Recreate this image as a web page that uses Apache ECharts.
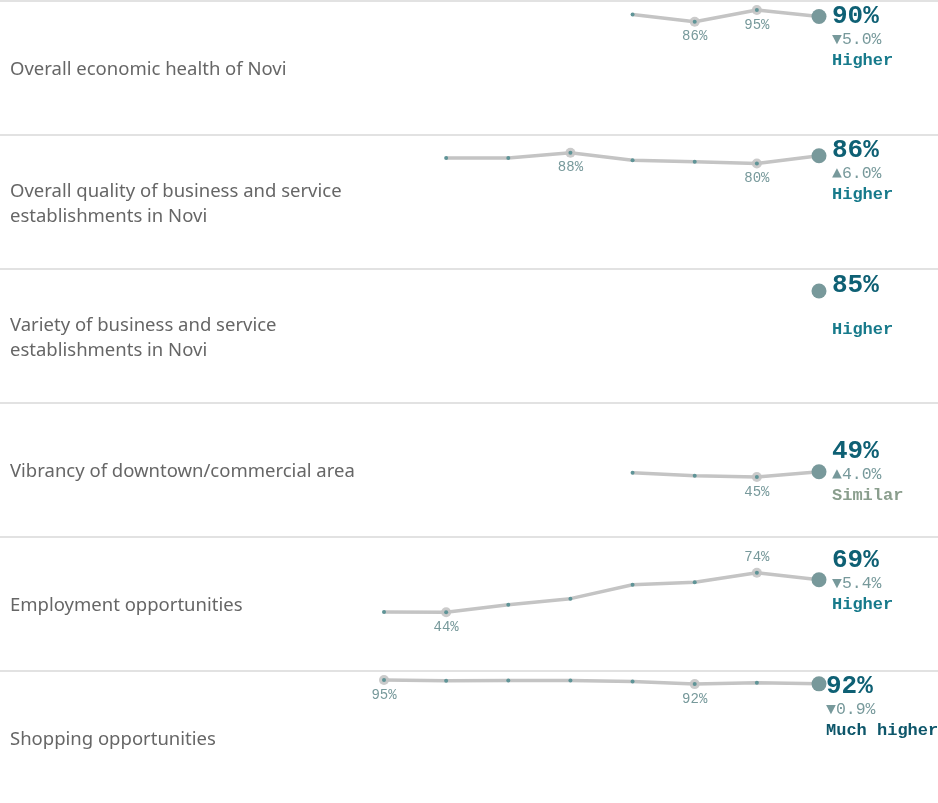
<!DOCTYPE html>
<html><head><meta charset="utf-8">
<script src="https://cdn.jsdelivr.net/npm/echarts@6/dist/echarts.min.js"></script>
<style>html,body{margin:0;padding:0;background:#fff}#c{width:938px;height:803px}</style>
</head><body><div id="c"></div>
<script>
// ---- data ----
const periods = ['P1', 'P2', 'P3', 'P4', 'P5', 'P6', 'P7', 'P8'];
const measures = [
  'Overall economic health of Novi',
  'Overall quality of business and service\nestablishments in Novi',
  'Variety of business and service\nestablishments in Novi',
  'Vibrancy of downtown/commercial area',
  'Employment opportunities',
  'Shopping opportunities'
];
const economicHealth   = [null, null, null, null, 91.5, 86, 95, 90];
const businessQuality  = [null, 84.2, 84.2, 88.3, 82.5, 81.4, 80, 86];
const businessVariety  = [null, null, null, null, null, null, null, 85];
const downtownVibrancy = [null, null, null, null, 48.3, 46, 45, 49];
const employment       = [44.2, 44, 49.8, 54.5, 65.2, 67.1, 74.4, 69];
const shopping         = [95, 94.4, 94.6, 94.6, 93.8, 91.8, 92.9, 92];
const changes  = [-5.0, 6.0, null, 4.0, -5.4, -0.9];
const verdicts = ['Higher', 'Higher', 'Higher', 'Similar', 'Higher', 'Much higher'];
// labelled (min / max) points per row: [index, side]
const economicMarks  = [[5, 'bottom'], [6, 'bottom']];
const qualityMarks   = [[3, 'bottom'], [6, 'bottom']];
const varietyMarks   = [];
const vibrancyMarks  = [[6, 'bottom']];
const employMarks    = [[1, 'bottom'], [6, 'top']];
const shoppingMarks  = [[0, 'bottom'], [5, 'bottom']];

const rowsData  = [economicHealth, businessQuality, businessVariety, downtownVibrancy, employment, shopping];
const rowsMarks = [economicMarks, qualityMarks, varietyMarks, vibrancyMarks, employMarks, shoppingMarks];

// ---- layout / style ----
const ROW_H = 134, ROW0 = 1;
const annX  = [832, 832, 832, 832, 832, 826];
const annY  = [15, 15, 16, 48.5, 23, 15];
const verdictColor = { 'Higher': '#177a8b', 'Similar': '#8a9e8d', 'Much higher': '#0d566a' };
const MONO = '"Liberation Mono","Courier New",monospace';
const SANS = '"Noto Sans","Open Sans",sans-serif';

const grid = [], xAxis = [], yAxis = [], series = [], graphic = [];
rowsData.forEach((vals, i) => {
  const top = ROW0 + i * ROW_H;
  grid.push({ left: 384, right: 119, top: top + 2.5, height: 130 });
  xAxis.push({ type: 'category', gridIndex: i, data: periods, boundaryGap: false, show: false });
  yAxis.push({ type: 'value', gridIndex: i, min: 0, max: 100, show: false });
  series.push({
    type: 'line', xAxisIndex: i, yAxisIndex: i, z: 2,
    data: vals.map(v => v == null ? '-' : v),
    symbol: 'circle', symbolSize: 4, showSymbol: true, silent: true,
    itemStyle: { color: '#5f9497' },
    lineStyle: { color: '#c4c4c4', width: 3.5 }
  });
  const markData = vals.map(() => '-');
  rowsMarks[i].forEach(([idx, side]) => {
    markData[idx] = { value: vals[idx], label: { position: side } };
  });
  series.push({
    type: 'scatter', xAxisIndex: i, yAxisIndex: i, z: 1, silent: true,
    data: markData, symbolSize: 10,
    itemStyle: { color: '#cbcbcb', opacity: 1 },
    label: {
      show: true, distance: 3,
      formatter: p => Math.round(p.value) + '%',
      fontFamily: MONO, fontSize: 14, color: '#77999b'
    }
  });
  const lastData = vals.map(() => '-');
  lastData[7] = vals[7];
  series.push({
    type: 'scatter', xAxisIndex: i, yAxisIndex: i, z: 5, silent: true,
    data: lastData, symbolSize: 15,
    itemStyle: { color: '#78999b', opacity: 1 }
  });

  // separator
  graphic.push({ type: 'line', shape: { x1: 0, y1: top, x2: 938, y2: top },
    style: { stroke: '#d9d9d9', lineWidth: 1.5 }, silent: true });
  // row label
  graphic.push({ type: 'text', x: 10, y: top + 69, silent: true,
    style: { text: measures[i], font: '18.5px ' + SANS, fill: '#666666',
      verticalAlign: 'middle', lineHeight: 25 } });
  // annotations
  const ay = top + annY[i];
  graphic.push({ type: 'text', x: annX[i], y: ay, silent: true,
    style: { text: Math.round(vals[7]) + '%', font: 'bold 26px ' + MONO,
      fill: '#0e6074', verticalAlign: 'middle' } });
  if (changes[i] != null) {
    const c = changes[i];
    graphic.push({ type: 'text', x: annX[i], y: ay + 23.5, silent: true,
      style: { text: (c < 0 ? '▼' : '▲') + Math.abs(c).toFixed(1) + '%', font: '16.5px ' + MONO,
        fill: '#77999b', verticalAlign: 'middle' } });
  }
  graphic.push({ type: 'text', x: annX[i], y: ay + 44.5, silent: true,
    style: { text: verdicts[i], font: 'bold 17px ' + MONO,
      fill: verdictColor[verdicts[i]], verticalAlign: 'middle' } });
});

const chart = echarts.init(document.getElementById('c'), null, { renderer: 'canvas' });
chart.setOption({ animation: false, grid, xAxis, yAxis, series, graphic });
</script></body></html>
